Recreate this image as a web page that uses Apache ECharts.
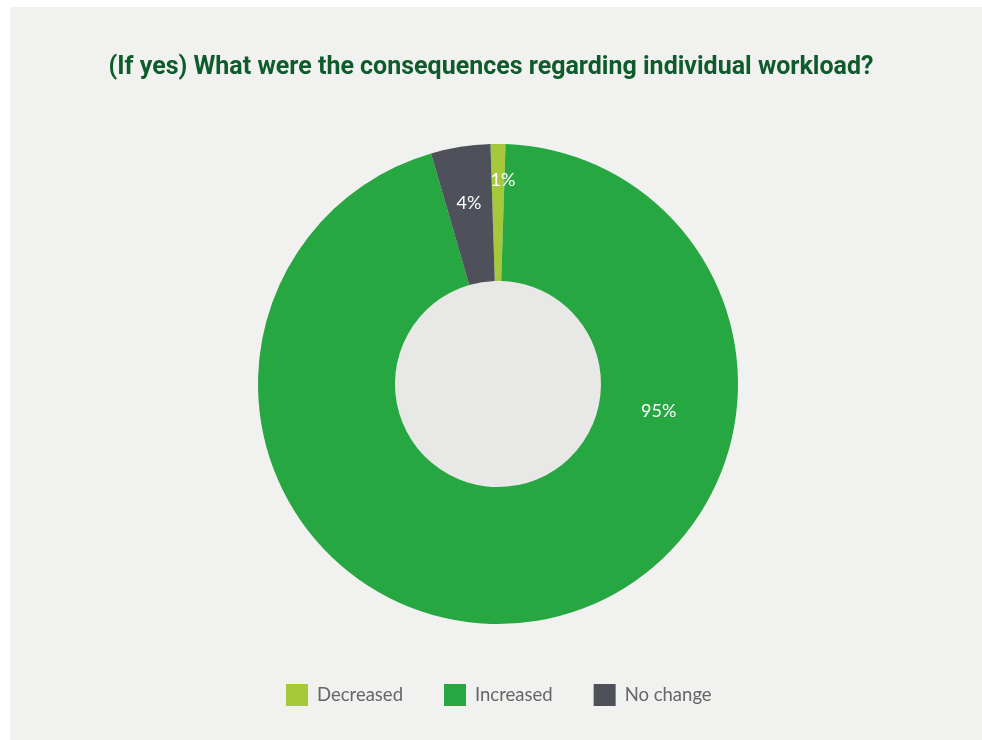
<!DOCTYPE html>
<html>
<head>
<meta charset="utf-8">
<script src="https://cdn.jsdelivr.net/npm/echarts@6/dist/echarts.min.js"></script>
<style>
html,body{margin:0;padding:0;background:#ffffff;overflow:hidden;}
#chart{width:982px;height:740px;}
</style>
</head>
<body>
<div id="chart"></div>
<script>
const categories = ['Decreased', 'Increased', 'No change'];
const values = [1, 95, 4];
const labels = ['1%', '95%', '4%'];
const colors = ['#a6c83b', '#27a742', '#4e5159'];

const W = 982, H = 740;
const cx = 498, cy = 384;
// label polar placement: [angle from top clockwise (deg), radius px]
const labelPolar = [[1.4, 204], [99.5, 163], [-9.1, 183]];

const chart = echarts.init(document.getElementById('chart'), null, {renderer: 'canvas'});
chart.setOption({
  backgroundColor: '#ffffff',
  animation: false,
  graphic: [{
    type: 'rect', z: -10, silent: true,
    shape: {x: 10, y: 7, width: W + 10, height: H + 10},
    style: {fill: '#f1f1ef'}
  }],
  title: {
    text: '(If yes) What were the consequences regarding individual workload?',
    left: 'center', top: 50,
    textStyle: {fontFamily: 'Roboto', fontWeight: 'bold', fontSize: 25, color: '#0e5b2b'}
  },
  legend: {
    data: categories,
    bottom: 29,
    left: 281,
    icon: 'rect',
    itemWidth: 22, itemHeight: 22, itemGap: 41,
    textStyle: {fontFamily: 'Lato', fontSize: 18.5, color: '#666666', padding: [0, 0, 0, 4]},
    selectedMode: false
  },
  series: [{
    type: 'pie',
    center: [cx, cy],
    radius: [103, 240],
    startAngle: 91.8,
    clockwise: true,
    silent: true,
    avoidLabelOverlap: false,
    data: categories.map((c, i) => ({name: c, value: values[i], itemStyle: {color: colors[i]}})),
    label: {
      show: true, position: 'inside',
      formatter: p => labels[p.dataIndex],
      color: '#ffffff', fontFamily: 'Lato', fontSize: 18
    },
    labelLine: {show: false},
    labelLayout: function (params) {
      const lp = labelPolar[params.dataIndex];
      const a = lp[0] * Math.PI / 180;
      return {x: cx + lp[1] * Math.sin(a), y: cy - lp[1] * Math.cos(a), align: 'center', verticalAlign: 'middle'};
    }
  }, {
    type: 'pie',
    center: [cx, cy],
    radius: [0, 103],
    silent: true,
    label: {show: false},
    labelLine: {show: false},
    data: [{name: '', value: 1, itemStyle: {color: '#e8e8e6'}}],
    z: 1
  }]
});
</script>
</body>
</html>
